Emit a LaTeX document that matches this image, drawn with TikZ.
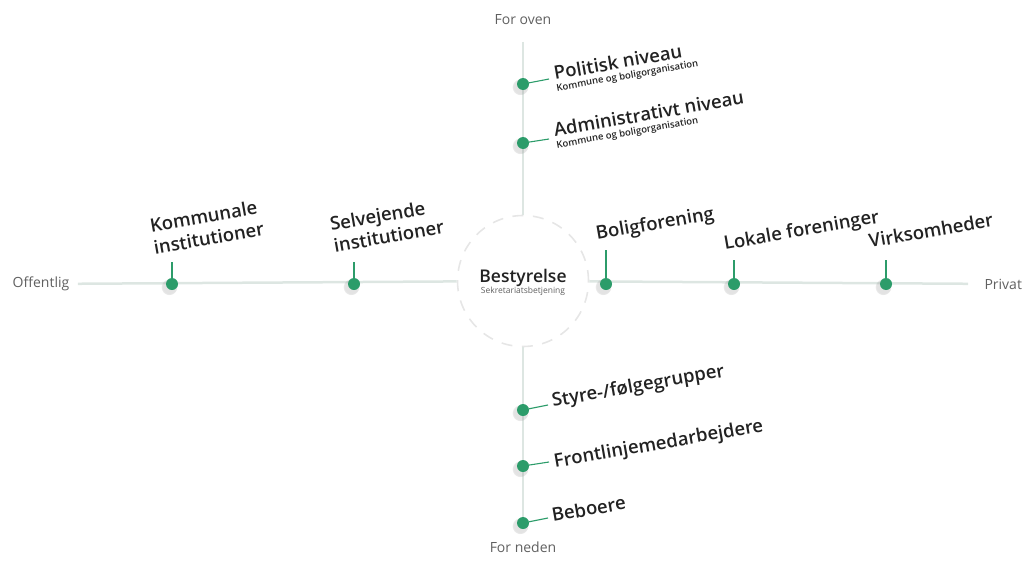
\documentclass[tikz,border=0pt]{standalone}
\usepackage{fontspec}
\setmainfont{Open Sans}[BoldFont={Open Sans Semibold}]
\usepackage{tikz}
\usetikzlibrary{positioning,shadows}
\definecolor{kortInk}{HTML}{222222}
\definecolor{kortGreen}{HTML}{2C9C6A}
\definecolor{kortAxis}{HTML}{DDE6E2}
\definecolor{kortRing}{HTML}{E6E6E6}
\definecolor{kortGray}{HTML}{606060}
\tikzset{
    gdot/.style={circle, fill=kortGreen, minimum size=12pt, inner sep=0pt, circular drop shadow={shadow xshift=-2pt, shadow yshift=-2pt, shadow scale=1.4, opacity=0.22}},
    ring/.style={circle, draw=kortRing, line width=1.6pt, dash pattern=on 11pt off 9.5pt, minimum size=131pt, inner sep=0pt},
    axisline/.style={line width=2.5pt, draw=kortAxis},
    tickline/.style={line width=1.1pt, draw=kortGreen},
    lbl/.style={font=\fontsize{18.5}{22}\selectfont\bfseries, text=kortInk, inner sep=0pt, rotate=10, align=left},
    sublbl/.style={font=\fontsize{9.5}{10}\selectfont\bfseries, text=kortInk, inner xsep=0pt, inner ysep=3.5pt, rotate=10, anchor=north west},
    axislbl/.style={font=\fontsize{14}{16}\selectfont, text=kortGray},
    hubtitle/.style={font=\fontsize{17.5}{20}\selectfont\bfseries, text=kortInk, inner sep=0pt, anchor=base},
    hubsub/.style={font=\fontsize{8.5}{10}\selectfont, text=kortGray, inner sep=0pt, anchor=base}
}
\begin{document}
\begin{tikzpicture}[x=1pt, y=-1pt]
\useasboundingbox (0,0) rectangle (1026,565);
% centre
\node[ring] (hub) at (523,281) {};
\node[hubtitle] (best) at (523,282) {Bestyrelse};
\node[hubsub] (sekr) at (523,293) {Sekretariatsbetjening};
% axes
\node[axislbl] (oven) at (523,20) {For oven};
\node[axislbl] (neden) at (523,547) {For neden};
\node[axislbl] (off) at (41,284) {Offentlig};
\node[axislbl, anchor=west] (priv) at (981,284) {Privat};
\draw[axisline, shorten <=13pt] (oven) -- (hub);
\draw[axisline, shorten <=10pt] (neden) -- (hub);
\draw[axisline, shorten <=5pt] (off) -- (hub);
\draw[axisline, shorten <=13pt] (priv) -- (hub);
% dots
\node[gdot] (dpol) at (523,84) {};
\node[gdot] (dadm) at (523,143) {};
\node[gdot] (dsty) at (523,410) {};
\node[gdot] (dfro) at (523,466) {};
\node[gdot] (dbeb) at (523,523) {};
\node[gdot] (dkom) at (172,284) {};
\node[gdot] (dsel) at (354,284) {};
\node[gdot] (dbol) at (606,284) {};
\node[gdot] (dlok) at (734,284) {};
\node[gdot] (dvir) at (886,284) {};
% ticks
\coordinate (tpol) at (549,79);
\coordinate (tadm) at (549,139);
\coordinate (tsty) at (548,405);
\coordinate (tfro) at (549,462);
\coordinate (tbeb) at (548,518);
\coordinate (tkom) at (172,262);
\coordinate (tsel) at (354,262);
\coordinate (tbol) at (606,250);
\coordinate (tlok) at (734,260);
\coordinate (tvir) at (886,260);
\draw[tickline] (dpol) -- (tpol); \draw[tickline] (dadm) -- (tadm);
\draw[tickline] (dsty) -- (tsty); \draw[tickline] (dfro) -- (tfro); \draw[tickline] (dbeb) -- (tbeb);
\draw[tickline] (dkom) -- (tkom); \draw[tickline] (dsel) -- (tsel);
\draw[tickline] (dbol) -- (tbol); \draw[tickline] (dlok) -- (tlok); \draw[tickline] (dvir) -- (tvir);
% labels
\node[lbl, anchor=base west] (pol) at (555,80) {Politisk niveau};
\node[sublbl] (polsub) at (pol.south west) {Kommune og boligorganisation};
\node[lbl, anchor=base west] (adm) at (555,137) {Administrativt niveau};
\node[sublbl] (admsub) at (adm.south west) {Kommune og boligorganisation};
\node[lbl, anchor=base west] (sty) at (553,407) {Styre-/følgegrupper};
\node[lbl, anchor=base west] (fro) at (555,468) {Frontlinjemedarbejdere};
\node[lbl, anchor=base west] (beb) at (553,522) {Beboere};
\node[lbl, anchor=south west] (kom) at (155,255) {Kommunale\\institutioner};
\node[lbl, anchor=south west] (sel) at (335,253) {Selvejende\\institutioner};
\node[lbl, anchor=base west] (bol) at (597,240) {Boligforening};
\node[lbl, anchor=base west] (lok) at (725,250) {Lokale foreninger};
\node[lbl, anchor=base west] (vir) at (870,248) {Virksomheder};
\end{tikzpicture}
\end{document}
